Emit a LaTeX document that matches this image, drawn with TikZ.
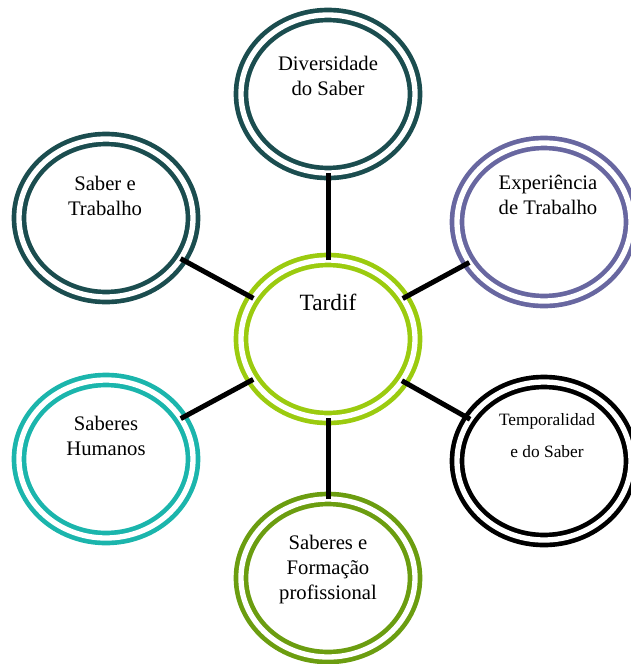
\documentclass[tikz,border=0pt]{standalone}
\usepackage{fontspec}
\setmainfont{Liberation Serif}
\usetikzlibrary{shapes.geometric}
\definecolor{darkteal}{HTML}{1B4D4F}
\definecolor{lavender}{HTML}{6867A0}
\definecolor{olivegreen}{HTML}{6B9D10}
\definecolor{limegreen}{HTML}{9BCB0F}
\definecolor{tealc}{HTML}{1BB5AC}
\begin{document}
\begin{tikzpicture}[x=0.75pt,y=-0.75pt,
  ring/.style={ellipse, draw=#1, line width=3.5pt, double=white, double distance=4pt,
    minimum width=130.5pt, minimum height=118.5pt, inner sep=0pt, outer sep=0pt},
  lbl/.style={align=center, font=\fontsize{15.5}{18.75}\selectfont, inner sep=0pt},
  lblbig/.style={align=center, font=\fontsize{17.5}{21}\selectfont, inner sep=0pt},
  lblsmall/.style={align=center, font=\fontsize{13}{24}\selectfont, inner sep=0pt},
  conn/.style={line width=3.75pt, black}]
\useasboundingbox (0,0) rectangle (631,664);
\node[ring=limegreen] (c) at (328,339) {};
\node[ring=darkteal] (t) at (328,94) {};
\node[ring=olivegreen] (b) at (328,578) {};
\node[ring=darkteal] (ul) at (106,218) {};
\node[ring=tealc] (ll) at (106,459) {};
\node[ring=lavender] (ur) at (544,222) {};
\node[ring=black] (lr) at (544,461) {};
\node[lbl] (tl) at (328,76) {Diversidade\\do Saber};
\node[lblbig] (cl) at (328,302) {Tardif};
\node[lbl] (url) at (548,195) {Experiência\\de Trabalho};
\node[lblsmall] (lrl) at (547,436) {Temporalidad\\e do Saber};
\node[lbl] (bl) at (328,570) {Saberes e\\Formação\\profissional};
\node[lbl] (ull) at (105,196) {Saber e\\Trabalho};
\node[lbl] (lll) at (106,436) {Saberes\\Humanos};
\draw[conn] (c) -- (t);
\draw[conn] (c) -- (b);
\draw[conn] (c) -- (ul);
\draw[conn] (c) -- (ll);
\draw[conn] (c) -- (ur);
\draw[conn] (c) -- (lr);
\end{tikzpicture}
\end{document}
